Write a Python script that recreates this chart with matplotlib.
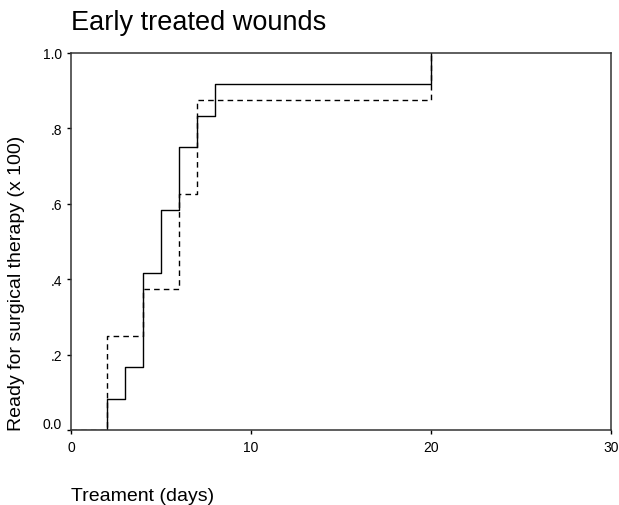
import matplotlib.pyplot as plt
from matplotlib.transforms import ScaledTranslation

plt.rcParams["font.family"] = ["Liberation Sans", "DejaVu Sans"]

# cumulative proportion ready for surgical therapy (step curves)
solid_days = [0, 2, 3, 4, 5, 6, 7, 8, 20]
solid_prop = [0.0, 1/12, 2/12, 5/12, 7/12, 9/12, 10/12, 11/12, 1.0]

dashed_days = [0, 2, 4, 6, 7, 20]
dashed_prop = [0.0, 0.25, 0.375, 0.625, 0.875, 1.0]

xticks = [0, 10, 20, 30]
yticks = [0.0, 0.2, 0.4, 0.6, 0.8, 1.0]
ytick_labels = ["0.0", ".2", ".4", ".6", ".8", "1.0"]

fig = plt.figure(figsize=(6.19, 5.06), dpi=100)
ax = fig.add_axes([0.1147, 0.1482, 0.8724, 0.7451])

ax.step(dashed_days, dashed_prop, where="post", color="black",
        linewidth=1.0, linestyle=(0, (4, 3)))
ax.step(solid_days, solid_prop, where="post", color="black", linewidth=1.0)

ax.set_xlim(0, 30)
ax.set_ylim(0, 1.0)
ax.set_xticks(xticks)
ax.set_yticks(yticks)
ax.set_yticklabels(ytick_labels)
ax.tick_params(axis="both", direction="out", length=3, width=1,
               labelsize=10, colors="black")
ax.tick_params(axis="x", pad=4.5)
ax.tick_params(axis="y", pad=3.5)

# lowest y label sits a bit above the axis line
lab0 = ax.get_yticklabels()[0]
lab0.set_transform(lab0.get_transform() + ScaledTranslation(0, 0.08, fig.dpi_scale_trans))

for sp in ax.spines.values():
    sp.set_linewidth(1.1)
    sp.set_color("#333333")

fig.text(0.1147, 0.941, "Early treated wounds", fontsize=19.5,
         ha="left", va="baseline")
fig.text(0.034, 0.1482, "Ready for surgical therapy (x 100)", fontsize=14,
         rotation=90, rotation_mode="anchor", ha="left", va="baseline")
fig.text(0.1147, 0.010, "Treament (days)", fontsize=14,
         ha="left", va="baseline")

fig.savefig("out.png", dpi=100)
